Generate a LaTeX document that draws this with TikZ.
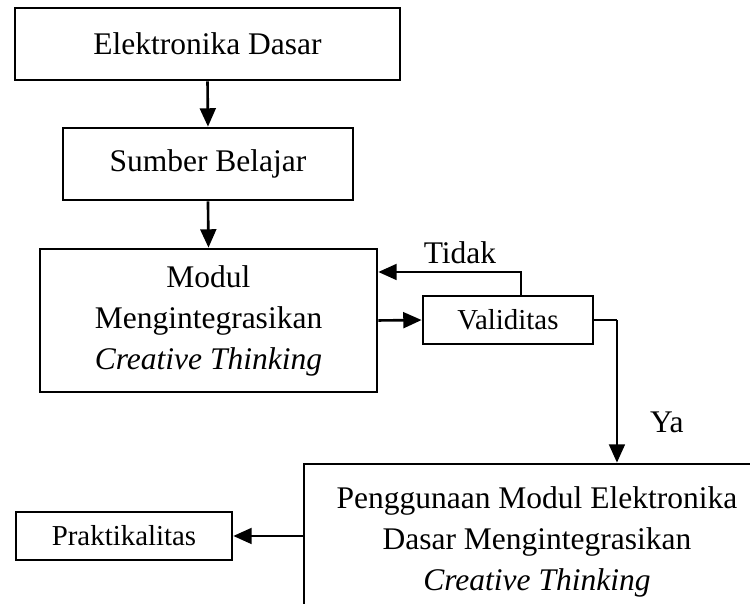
\documentclass[tikz,border=0pt]{standalone}
\usepackage{fontspec}
\setmainfont{Liberation Serif}
\usetikzlibrary{arrows.meta, positioning, calc}
\tikzset{
  blok/.style      = {rectangle, draw=black, line width=1pt, align=center, inner sep=2pt, font=\fontsize{12}{15.6}\selectfont},
  blokkecil/.style = {rectangle, draw=black, line width=1pt, align=center, inner sep=2pt, font=\fontsize{11}{13}\selectfont},
  flow/.style      = {-{Triangle[length=7pt,width=6pt]}, line width=1pt, black},
  flowtipis/.style = {line width=0.5pt, black},
  lbl/.style       = {font=\fontsize{12}{14}\selectfont},
}

\begin{document}
\begin{tikzpicture}
  \clip (0,0) rectangle (10.04,-8.085);

  \node[blok, minimum width=5.154cm, minimum height=0.964cm] (dasar) at (2.778,-0.589) {Elektronika Dasar};
  \node[blok, minimum width=3.882cm, minimum height=0.964cm] (sumber) at (2.784,-2.195) {Sumber Belajar};
  \node[blok, minimum width=4.511cm, minimum height=1.914cm] (modul) at (2.791,-4.290) {Modul\\Mengintegrasikan\\\textit{Creative Thinking}};
  \node[blokkecil, minimum width=2.276cm, minimum height=0.643cm] (valid) at (6.800,-4.284) {Validitas};
  \node[blok, minimum width=6.238cm, minimum height=2.088cm] (guna) at (7.188,-7.255) {Penggunaan Modul Elektronika\\Dasar Mengintegrasikan\\\textit{Creative Thinking}};
  \node[blokkecil, minimum width=2.891cm, minimum height=0.643cm] (prak) at (1.660,-7.175) {Praktikalitas};

  \node[lbl] (tidak) at (6.158,-3.387) {Tidak};
  \node[lbl] (ya) at (8.928,-5.649) {Ya};
  \coordinate (belok) at (8.259,-4.284);

  \draw[flow] (dasar.south) -- (sumber.north);
  \draw[flow] (sumber.south) -- (modul.north);
  \draw[flow] (modul.east) -- (valid.west);
  \draw[flow] ([xshift=0.174cm]valid.north) |- ([yshift=0.649cm]modul.east);
  \draw[flowtipis] (valid.east) -- (belok);
  \draw[flow] (belok) -- (belok |- guna.north);
  \draw[flow] (guna.west |- prak.east) -- (prak.east);
\end{tikzpicture}
\end{document}
